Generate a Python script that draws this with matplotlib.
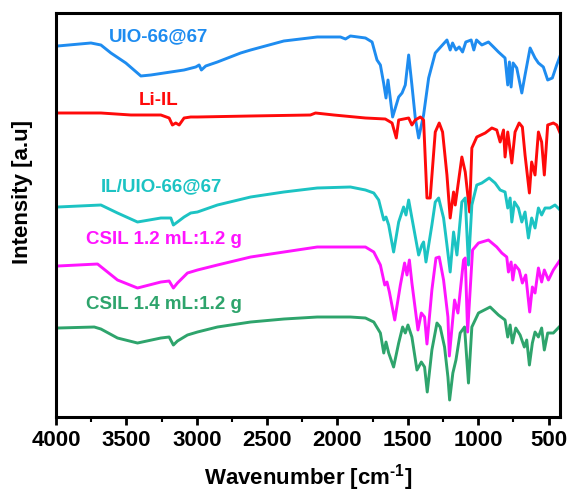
import numpy as np
import matplotlib.pyplot as plt
from matplotlib.ticker import MultipleLocator

# FTIR spectra, stacked with offsets (intensity in arbitrary units)
uio_wn = [3988, 3752, 3681, 3610, 3504, 3397, 3326, 3090, 3007, 2983, 2967, 2936, 2853, 2688,
          2617, 2381, 2144, 1979, 1943, 1908, 1801, 1754, 1719, 1695, 1672, 1655, 1641, 1608,
          1565, 1541, 1518, 1494, 1471, 1447, 1423, 1388, 1352, 1305, 1222, 1199, 1182, 1158,
          1135, 1111, 1088, 1050, 1031, 1012, 974, 927, 891, 856, 809, 790, 778, 766, 752,
          726, 690, 667, 631, 596, 572, 537, 506, 473, 442, 418]
uio_int = [372, 375, 373, 365, 355, 342, 343, 348, 351, 353, 348, 352, 356, 365,
           368, 377, 381, 381, 379, 382, 380, 376, 358, 353, 335, 320, 338, 301,
           321, 325, 333, 363, 333, 300, 280, 303, 340, 365, 378, 368, 375, 368,
           371, 366, 376, 378, 368, 378, 373, 376, 371, 366, 360, 333, 356, 331, 355,
           350, 325, 343, 370, 360, 355, 351, 338, 340, 353, 362]

liil_wn = [3988, 3681, 3468, 3255, 3196, 3173, 3149, 3125, 3090, 3043, 2995, 2617, 2192, 2156,
           2026, 1801, 1660, 1612, 1582, 1565, 1494, 1471, 1447, 1411, 1388, 1364, 1341, 1305,
           1277, 1253, 1222, 1199, 1175, 1163, 1116, 1092, 1061, 1045, 1010, 950, 903, 868,
           844, 820, 809, 790, 761, 738, 709, 686, 667, 636, 620, 596, 572, 549, 530, 506,
           466, 442, 418]
liil_int = [305, 305, 303, 303, 300, 293, 295, 293, 300, 301, 301, 302, 303, 305,
            303, 300, 299, 295, 280, 298, 300, 293, 298, 301, 298, 220, 220, 286,
            295, 286, 243, 200, 226, 213, 261, 246, 206, 270, 281, 285, 290, 288,
            276, 288, 261, 286, 255, 286, 295, 291, 263, 225, 256, 243, 286, 276, 243, 293,
            295, 293, 285]

iluio_wn = [3988, 3681, 3563, 3421, 3255, 3184, 3166, 3137, 3090, 3043, 2995, 2853, 2617, 2381,
            2144, 1908, 1801, 1742, 1707, 1671, 1655, 1636, 1601, 1565, 1530, 1513, 1494, 1471,
            1423, 1400, 1388, 1371, 1329, 1305, 1281, 1246, 1222, 1199, 1175, 1151, 1116, 1092,
            1069, 1045, 1010, 974, 922, 880, 844, 809, 790, 773, 761, 742, 714, 690, 667, 643,
            620, 596, 572, 549, 525, 490, 454, 418]
iluio_int = [211, 213, 205, 196, 200, 200, 193, 196, 201, 205, 206, 213, 221, 226,
             230, 231, 228, 225, 218, 198, 201, 193, 166, 196, 211, 203, 218, 200,
             163, 173, 176, 156, 193, 216, 220, 200, 173, 146, 186, 163, 216, 220,
             153, 213, 233, 235, 240, 235, 228, 226, 210, 220, 196, 216, 210, 196, 206, 180,
             200, 190, 210, 203, 210, 210, 213, 208]

csil12_wn = [3988, 3705, 3563, 3421, 3255, 3196, 3166, 3137, 3066, 2995, 2853, 2617, 2381, 2144,
             1908, 1801, 1742, 1695, 1664, 1648, 1631, 1593, 1553, 1523, 1506, 1489, 1471, 1428,
             1404, 1381, 1364, 1329, 1300, 1277, 1246, 1215, 1205, 1168, 1144, 1104, 1092, 1075,
             1040, 998, 927, 868, 832, 797, 785, 766, 754, 738, 709, 686, 662, 634, 615, 596,
             572, 549, 530, 501, 466, 418]
csil12_int = [152, 154, 138, 130, 136, 137, 130, 135, 145, 148, 153, 161, 166, 171,
              171, 171, 166, 153, 133, 136, 126, 98, 133, 155, 143, 158, 135, 88,
              105, 101, 74, 128, 160, 161, 138, 101, 62, 118, 105, 158, 160, 86,
              168, 175, 178, 171, 165, 161, 146, 156, 138, 153, 148, 135, 143, 106, 131, 125,
              150, 136, 148, 138, 148, 158]

csil14_wn = [3988, 3728, 3681, 3563, 3421, 3255, 3196, 3166, 3137, 3066, 2995, 2853, 2617, 2381,
             2144, 1908, 1801, 1742, 1695, 1671, 1655, 1636, 1601, 1565, 1537, 1518, 1499, 1471,
             1435, 1404, 1381, 1362, 1329, 1293, 1270, 1239, 1215, 1203, 1180, 1158, 1128, 1097,
             1069, 1045, 998, 915, 856, 809, 790, 773, 757, 733, 702, 672, 655, 636, 615, 596,
             572, 549, 530, 506, 466, 418]
csil14_int = [90, 91, 89, 80, 75, 80, 81, 73, 77, 83, 86, 91, 96, 99,
              101, 101, 100, 96, 85, 65, 76, 65, 51, 75, 91, 85, 93, 81,
              48, 56, 51, 26, 68, 95, 91, 71, 41, 18, 45, 58, 85, 91,
              35, 91, 105, 111, 103, 98, 81, 93, 75, 90, 83, 71, 78, 53, 75, 86,
              81, 90, 68, 85, 85, 92]

labels = ["UIO-66@67", "Li-IL", "IL/UIO-66@67", "CSIL 1.2 mL:1.2 g", "CSIL 1.4 mL:1.2 g"]
colors = ["#1E8CF0", "#FF0A0A", "#1CC3C3", "#FF14FF", "#2EA46C"]


def main():
    plt.rcParams['font.family'] = ['Liberation Sans', 'DejaVu Sans']
    plt.rcParams['font.weight'] = 'bold'
    plt.rcParams['mathtext.fontset'] = 'custom'
    plt.rcParams['mathtext.rm'] = 'Liberation Sans:bold'
    plt.rcParams['mathtext.bf'] = 'Liberation Sans:bold'

    fig = plt.figure(figsize=(5.67, 4.92), dpi=100)
    ax = fig.add_axes([0.0988, 0.1524, 0.889, 0.8212])

    series = [(uio_wn, uio_int), (liil_wn, liil_int), (iluio_wn, iluio_int),
              (csil12_wn, csil12_int), (csil14_wn, csil14_int)]
    for (x, y), c in zip(series, colors):
        ax.plot(x, y, color=c, lw=2.1, solid_joinstyle='round')

    # curve labels
    label_pos = [(3624, 381), (3411, 317), (3681, 231), (3787, 179), (3787, 114)]
    for name, (lx, ly), c in zip(labels, label_pos, colors):
        ax.text(lx, ly, name, color=c, fontsize=13.5, fontweight='bold', va='center', ha='left')

    ax.set_xlim(4000, 418)
    ax.set_ylim(1, 405)
    ax.set_yticks([])
    ax.xaxis.set_major_locator(MultipleLocator(500))
    ax.xaxis.set_minor_locator(MultipleLocator(250))
    ax.tick_params(axis='x', which='major', direction='out', length=6, width=2, labelsize=16, pad=3)
    ax.tick_params(axis='x', which='minor', direction='out', length=3.5, width=1.5)
    for lab in ax.get_xticklabels():
        lab.set_fontweight('bold')
    for s in ax.spines.values():
        s.set_linewidth(2.2)

    ax.set_xlabel("Wavenumber [cm$^{\\text{-1}}$]", fontsize=16, fontweight='bold', labelpad=8)
    ax.set_ylabel("Intensity [a.u]", fontsize=16, fontweight='bold')
    ax.yaxis.set_label_coords(-0.045, 0.557)

    fig.savefig("out.png", dpi=100)


if __name__ == "__main__":
    main()
